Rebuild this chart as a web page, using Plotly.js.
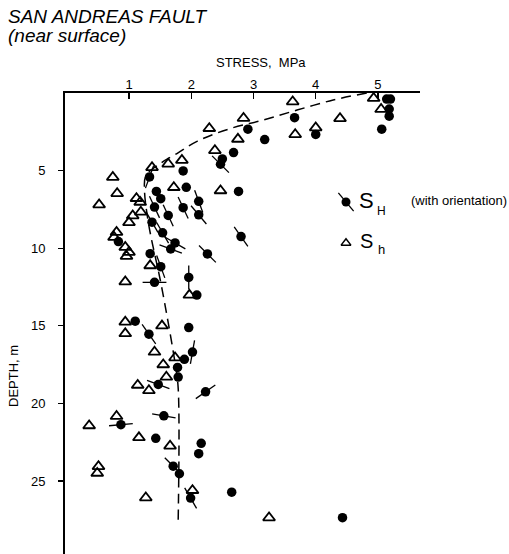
<!DOCTYPE html>
<html>
<head>
<meta charset="utf-8">
<script src="https://cdn.plot.ly/plotly-3.0.1.min.js"></script>
<style>html,body{margin:0;padding:0;background:#fff;}#chart{width:509px;height:554px;}</style>
</head>
<body>
<div id="chart"></div>
<script>
// S_H (maximum horizontal stress) — stress (MPa), depth (m), orientation angle (deg, null = none)
const stressH = [5.14,5.20,5.18,5.18,5.06,3.66,4.00,2.91,3.18,2.68,2.50,2.47,1.87,1.33,1.92,2.76,1.44,1.51,2.12,1.41,1.87,1.63,2.12,1.37,1.54,2.80,0.83,1.74,1.67,1.34,2.26,1.51,1.96,1.41,2.09,1.10,1.96,1.32,2.02,1.89,1.78,1.79,1.47,2.23,1.56,0.87,1.43,2.16,2.12,1.71,1.81,1.99,2.65,4.43];
const depthH  = [0.39,0.39,1.03,1.49,2.33,1.59,2.67,2.33,3.00,3.84,4.25,4.59,5.02,5.41,6.08,6.34,6.34,6.81,6.98,7.35,7.39,7.89,7.85,8.32,9.01,9.25,9.57,9.66,10.05,10.35,10.37,11.19,11.88,12.20,13.02,14.70,15.11,15.54,16.69,17.16,17.68,18.30,18.78,19.25,20.80,21.37,22.25,22.57,23.24,24.04,24.53,26.10,25.72,27.36];
const orientH = [null,null,null,null,null,null,null,null,null,null,null,-45,null,20,null,null,null,null,-20,-25,-25,-25,-40,-30,-30,-35,null,-60,-70,null,-45,-20,0,90,null,null,null,-35,10,null,null,null,-70,55,-80,85,null,null,null,-45,null,-30,null,null];
// S_h (minimum horizontal stress)
const stressh = [4.93,5.05,4.39,4.00,3.67,3.63,2.84,2.29,2.75,2.38,1.85,1.63,1.37,0.74,0.81,1.72,2.47,1.12,1.18,0.52,1.19,1.06,1.00,0.80,0.76,0.94,1.00,0.96,1.34,0.94,1.97,0.94,1.53,0.94,1.41,1.74,1.55,1.60,1.14,1.32,0.80,0.36,1.16,1.66,0.51,0.49,2.02,1.27,3.25];
const depthh  = [0.34,1.05,1.64,2.24,2.67,0.56,1.62,2.28,2.97,3.70,4.33,4.57,4.80,5.43,6.47,6.08,6.29,6.79,7.03,7.20,7.67,7.91,8.34,8.97,9.29,9.94,10.26,10.52,11.12,12.16,13.02,14.75,15.00,15.50,16.69,17.05,17.50,18.30,18.82,19.17,20.83,21.43,22.20,22.74,24.06,24.49,25.60,26.07,27.36];
// dashed trend curve
const curveStress = [4.82,4.28,3.70,3.15,2.62,2.10,1.77,1.50,1.27,1.25,1.29,1.35,1.50,1.63,1.74,1.79,1.79];
const curveDepth  = [0.00,0.45,1.10,1.75,2.30,3.10,3.90,4.55,5.35,6.30,7.80,9.20,12.00,14.80,17.40,19.00,27.60];
const xTicks = [1,2,3,4,5];
const yTicks = [5,10,15,20,25];

const L=65, R=420, T=93, B=554;
const px = x => (x-L)/(R-L);
const py = y => (B-y)/(B-T);

const oX=[],oY=[],oA=[];
orientH.forEach((a,i)=>{ if(a!==null){ oX.push(stressH[i]); oY.push(depthH[i]); oA.push(a);} });

const font = 'Liberation Sans, Arial, Helvetica, sans-serif';
const traces = [
  {x:curveStress, y:curveDepth, mode:'lines', line:{color:'#000', width:1.5, dash:'10px,6px', shape:'spline'}, hoverinfo:'skip'},
  {x:oX, y:oY, mode:'markers', marker:{symbol:'line-ns', size:17, angle:oA, color:'#000', line:{color:'#000', width:1.3}}},
  {x:stressH, y:depthH, mode:'markers', marker:{symbol:'circle', size:9.5, color:'#000', line:{width:0}}},
  {x:stressh, y:depthh, mode:'markers', marker:{symbol:'triangle-up-open', size:10.5, color:'#000', line:{color:'#000', width:1.8}}},
  // legend glyphs on an invisible overlay axis
  {x:[px(346)], y:[py(202)], xaxis:'x2', yaxis:'y2', mode:'markers', marker:{symbol:'line-ns', size:17, angle:-40, color:'#000', line:{color:'#000', width:1.3}}},
  {x:[px(346)], y:[py(202)], xaxis:'x2', yaxis:'y2', mode:'markers', marker:{symbol:'circle', size:9, color:'#000'}},
  {x:[px(346)], y:[py(243)], xaxis:'x2', yaxis:'y2', mode:'markers', marker:{symbol:'triangle-up-open', size:8.5, color:'#000', line:{color:'#000', width:1.5}}}
];

const ann = (text, x, y, size, opts={}) => Object.assign({text, x:px(x), y:py(y), xref:'paper', yref:'paper', showarrow:false, font:{family:font, size, color:'#000'}, xanchor:'left', yanchor:'middle', borderpad:0}, opts);

const layout = {
  width:509, height:554, showlegend:false,
  paper_bgcolor:'#fff', plot_bgcolor:'#fff',
  margin:{l:L, r:509-R, t:T, b:554-B},
  font:{family:font, color:'#000'},
  xaxis:{side:'top', range:[-0.028,5.675], tickvals:xTicks, ticktext:xTicks.map(String), ticks:'inside', ticklen:6, tickwidth:1.3, tickcolor:'#000', ticklabelstandoff:-3,
         showline:true, linewidth:2, linecolor:'#000', showgrid:false, zeroline:false, tickfont:{size:13, family:font}},
  yaxis:{range:[29.7,0], tickvals:yTicks, ticktext:yTicks.map(String), ticks:'outside', ticklen:5, tickwidth:1.3, tickcolor:'#000', ticklabelstandoff:10,
         showline:true, linewidth:2, linecolor:'#000', showgrid:false, zeroline:false, tickfont:{size:13, family:font}},
  xaxis2:{overlaying:'x', anchor:'y2', range:[0,1], visible:false, fixedrange:true},
  yaxis2:{overlaying:'y', anchor:'x2', range:[0,1], visible:false, fixedrange:true},
  annotations:[
    ann('<i>SAN ANDREAS FAULT</i>', 7, 16, 19),
    ann('<i>(near surface)</i>', 7, 35, 19),
    ann('STRESS,  MPa', 261, 62, 13, {xanchor:'center'}),
    ann('DEPTH, m', 13, 376, 13, {xanchor:'center', textangle:-90}),
    ann('S', 366, 201, 22, {xanchor:'center'}),
    ann('H', 381, 211, 12, {xanchor:'center'}),
    ann('(with orientation)', 508, 201, 13, {xanchor:'right'}),
    ann('S', 366, 241, 20, {xanchor:'center'}),
    ann('h', 381, 250, 13, {xanchor:'center'})
  ]
};
Plotly.newPlot('chart', traces, layout, {staticPlot:true, displayModeBar:false});
</script>
</body>
</html>
